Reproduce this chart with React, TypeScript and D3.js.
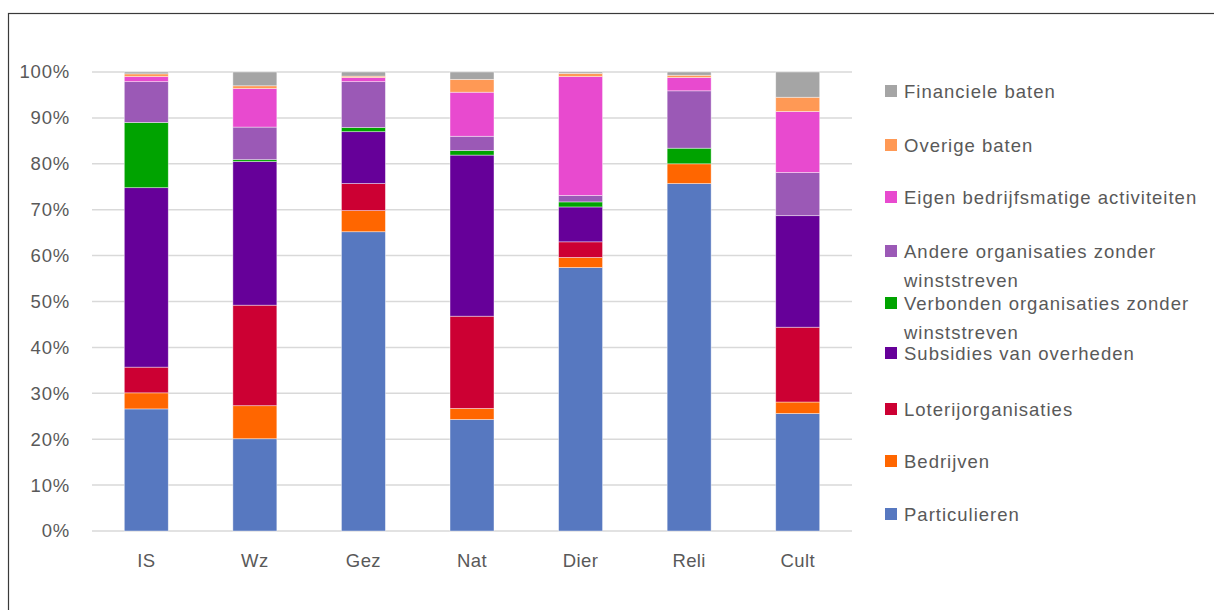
import React from "react";
import * as d3 from "d3";

const categories = ["IS", "Wz", "Gez", "Nat", "Dier", "Reli", "Cult"];
const seriesNames = [
  "Particulieren",
  "Bedrijven",
  "Loterijorganisaties",
  "Subsidies van overheden",
  "Verbonden organisaties zonder winststreven",
  "Andere organisaties zonder winststreven",
  "Eigen bedrijfsmatige activiteiten",
  "Overige baten",
  "Financiele baten",
];
const legendLines = [
  ["Particulieren"],
  ["Bedrijven"],
  ["Loterijorganisaties"],
  ["Subsidies van overheden"],
  ["Verbonden organisaties zonder", "winststreven"],
  ["Andere organisaties zonder", "winststreven"],
  ["Eigen bedrijfsmatige activiteiten"],
  ["Overige baten"],
  ["Financiele baten"],
];
const colors = ["#5778C0", "#FF6600", "#CC0033", "#660099", "#00A300", "#9B59B6", "#E84ACF", "#FF9955", "#A5A5A5"];

// values per category, in % (order = seriesNames)
const particulieren = [26.6, 20.1, 65.2, 24.3, 57.4, 75.7, 25.6];
const bedrijven = [3.5, 7.2, 4.6, 2.4, 2.2, 4.3, 2.5];
const loterij = [5.6, 21.9, 5.9, 20.1, 3.4, 0, 16.3];
const subsidies = [39.1, 31.3, 11.3, 35.1, 7.6, 0, 24.3];
const verbonden = [14.2, 0.4, 0.9, 1.0, 1.1, 3.4, 0];
const andere = [8.9, 7.1, 10.0, 3.1, 1.4, 12.5, 9.4];
const eigen = [1.1, 8.4, 0.9, 9.6, 25.9, 2.9, 13.3];
const overige = [0.6, 0.6, 0.3, 2.8, 0.7, 0.5, 3.1];
const financiele = [0.4, 3.0, 0.9, 1.6, 0.3, 0.7, 5.5];

const seriesValues = [particulieren, bedrijven, loterij, subsidies, verbonden, andere, eigen, overige, financiele];
const yTicks = [0, 10, 20, 30, 40, 50, 60, 70, 80, 90, 100];

export default function App() {
  const W = 1214, H = 610;
  const left = 92, right = 852, top = 72, bottom = 531;
  const x = d3.scaleBand().domain(categories).range([left, right]).paddingInner(0.595).paddingOuter(0.2975);
  const y = d3.scaleLinear().domain([0, 100]).range([bottom, top]);

  const rows = categories.map((c, i) => {
    const r: any = { cat: c };
    seriesNames.forEach((s, j) => (r[s] = seriesValues[j][i]));
    return r;
  });
  const stacked = d3.stack().keys(seriesNames)(rows);
  const font = "'Liberation Sans', Arial, sans-serif";
  const textColor = "#595959";

  const legendX = 885;
  const legendY = [514, 461, 409, 353, 303, 251, 197, 145, 91];

  return (
    <svg width={W} height={H} style={{ position: "absolute", left: 0, top: 0, background: "#fff" }}>
      <rect x={8.5} y={13.5} width={1230} height={620} fill="#fff" stroke="#3a3a3a" strokeWidth={1.2} />
      {yTicks.map((t) => (
        <g key={t}>
          <line x1={left} x2={right} y1={y(t)} y2={y(t)} stroke="#d9d9d9" strokeWidth={1.5} />
          <text x={70} y={y(t)} dy="0.35em" textAnchor="end" fontFamily={font} fontSize={18.5} fill={textColor} letterSpacing={0.8}>
            {t}%
          </text>
        </g>
      ))}
      {stacked.map((layer, j) => (
        <g key={layer.key} fill={colors[j]}>
          {layer.map((d, i) =>
            d[1] - d[0] > 0 ? (
              <rect
                key={i}
                x={x(categories[i])}
                y={y(d[1])}
                width={x.bandwidth()}
                height={y(d[0]) - y(d[1])}
                stroke="#ffffff"
                strokeOpacity={0.55}
                strokeWidth={0.75}
              />
            ) : null
          )}
        </g>
      ))}
      {categories.map((c) => (
        <text key={c} x={(x(c) as number) + x.bandwidth() / 2} y={567} textAnchor="middle" fontFamily={font} fontSize={18.5} fill={textColor} letterSpacing={0.4}>
          {c}
        </text>
      ))}
      {seriesNames.map((s, j) => (
        <g key={s}>
          <rect x={legendX} y={legendY[j] - 6} width={12} height={12} fill={colors[j]} />
          {legendLines[j].map((ln, k) => (
            <text key={k} x={904} y={legendY[j] + k * 29} dy="0.36em" fontFamily={font} fontSize={18.5} fill={textColor} letterSpacing={1.0}>
              {ln}
            </text>
          ))}
        </g>
      ))}
    </svg>
  );
}
